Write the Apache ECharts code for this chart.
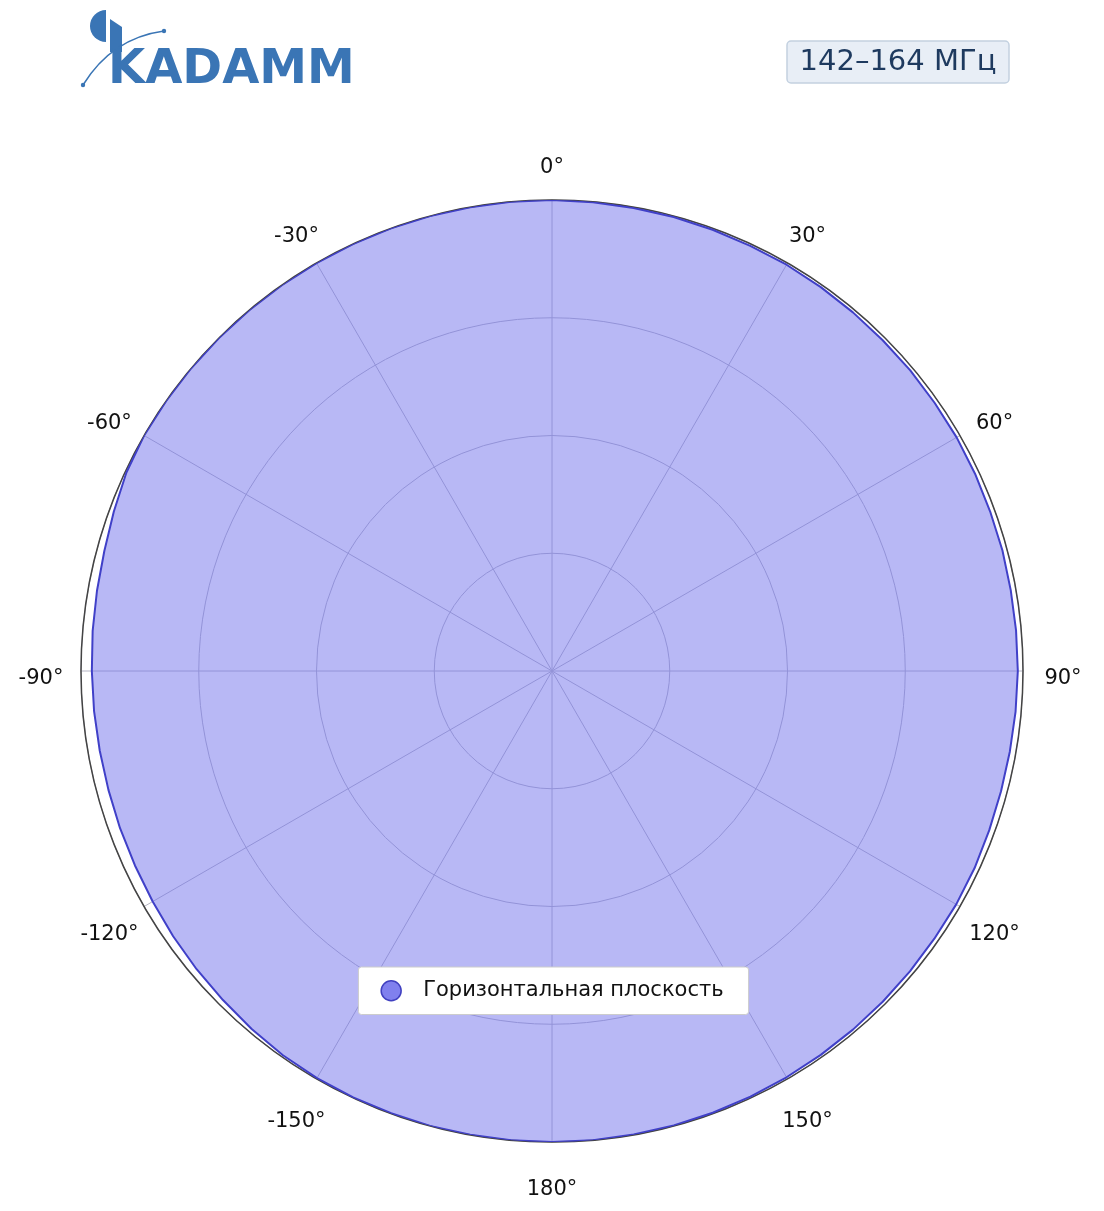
<!DOCTYPE html>
<html><head><meta charset="utf-8">
<script src="https://cdn.jsdelivr.net/npm/echarts@6/dist/echarts.min.js"></script>
<style>html,body{margin:0;padding:0;background:#fff}#c{width:1104px;height:1211px}</style>
</head><body><div id="c"></div>
<script>
// Angles (degrees, clockwise from top) and relative gain values
const angles = [0,5,10,15,20,25,30,35,40,45,50,55,60,65,70,75,80,85,90,95,100,105,110,115,120,125,130,135,140,145,150,155,160,165,170,175,
                180,185,190,195,200,205,210,215,220,225,230,235,240,245,250,255,260,265,270,275,280,285,290,295,300,305,310,315,320,325,330,335,340,345,350,355,360];
const gains = [1.0,0.999,0.998,0.998,0.997,0.996,0.996,0.995,0.994,0.993,0.993,0.992,0.992,0.991,0.99,0.99,0.989,0.989,0.989,0.988,0.987,0.987,0.988,0.99,0.991,0.991,0.992,0.993,0.994,0.995,0.996,0.997,0.998,0.999,0.999,1.0,
               1.0,1.0,1.0,1.0,0.999,0.999,0.998,0.996,0.992,0.988,0.985,0.982,0.979,0.977,0.976,0.975,0.975,0.976,0.977,0.979,0.981,0.984,0.99,0.997,1.0,1.0,1.0,1.0,1.0,1.0,1.0,1.0,1.0,1.0,1.0,1.0,1.0];
const angleTicks = [0,30,60,90,120,150,180,210,240,270,300,330];
const radiusTicks = [0, 0.25, 0.5, 0.75, 1];
const seriesName = 'Горизонтальная плоскость';
const bandLabel = '142–164 МГц';
const logoText = 'KADAMM';

const font = '"DejaVu Sans", sans-serif';
const CX = 552, CY = 671, RAD = 471;
const LABEL_FS = 21, LABEL_R = 511, LABEL_DY = 8, LABEL_MARGIN = -25;

function tickText(v) { return (v > 180 ? v - 360 : v) + '°'; }

// Per-label padding so each label is centred on a circle around the plot
const ctx = document.createElement('canvas').getContext('2d');
ctx.font = LABEL_FS + 'px ' + font;
const rich = {};
angleTicks.forEach(v => {
  const t = v * Math.PI / 180, s = Math.sin(t), c = Math.cos(t);
  const R = RAD + LABEL_MARGIN;
  const ax = R * s, ay = -R * c;
  const tx = LABEL_R * s, ty = -LABEL_R * c + LABEL_DY;
  const w = ctx.measureText(tickText(v)).width, h = LABEL_FS;
  let pl = 0, pr = 0, pt = 0, pb = 0;
  const hAlign = Math.abs(ax) / RAD < 0.3 ? 'center' : (ax > 0 ? 'left' : 'right');
  const vAlign = Math.abs(ay) / RAD < 0.3 ? 'middle' : (ay > 0 ? 'top' : 'bottom');
  if (hAlign === 'center') { const d = 2 * (tx - ax); if (d > 0) pl = d; else pr = -d; }
  else if (hAlign === 'left') pl = tx - ax - w / 2;
  else pr = ax - tx - w / 2;
  if (vAlign === 'middle') { const d = 2 * (ty - ay); if (d > 0) pt = d; else pb = -d; }
  else if (vAlign === 'top') pt = ty - ay - h / 2;
  else pb = ay - ty - h / 2;
  rich['a' + v] = { fontSize: LABEL_FS, fontFamily: font, color: '#111',
    padding: [Math.max(0, pt), Math.max(0, pr), Math.max(0, pb), Math.max(0, pl)] };
});

const chart = echarts.init(document.getElementById('c'));
const data = angles.map((a, i) => [gains[i], a]);

chart.setOption({
  animation: false,
  textStyle: { fontFamily: font },
  polar: { center: [CX, CY], radius: RAD },
  angleAxis: {
    type: 'value', min: 0, max: 360, interval: 30, startAngle: 90, clockwise: true,
    axisLine: { show: true, lineStyle: { color: '#444', width: 1.5 } },
    axisTick: { show: false },
    axisLabel: {
      margin: LABEL_MARGIN, fontSize: LABEL_FS, color: '#111', fontFamily: font, rich: rich,
      formatter: v => '{a' + v + '|' + tickText(v) + '}'
    },
    splitLine: { show: true, lineStyle: { color: '#b4b4c4', width: 1 } }
  },
  radiusAxis: {
    type: 'value', min: radiusTicks[0], max: radiusTicks[radiusTicks.length - 1], interval: 0.25,
    axisLine: { show: false }, axisTick: { show: false }, axisLabel: { show: false },
    splitLine: { show: true, lineStyle: { color: '#b4b4c4', width: 1 } }
  },
  legend: {
    left: 'center', top: 967,
    backgroundColor: '#fff', borderColor: '#cccccc', borderWidth: 1, borderRadius: 3,
    padding: [13, 25, 13, 22],
    itemWidth: 20, itemHeight: 20, icon: 'circle',
    textStyle: { fontSize: 21, color: '#111', fontFamily: font, padding: [0, 0, 0, 17] },
    data: [{ name: seriesName, itemStyle: { color: '#8080ee', borderColor: '#4040c0', borderWidth: 1.5 } }]
  },
  series: [{
    name: seriesName, type: 'line', coordinateSystem: 'polar',
    data: data, showSymbol: false, smooth: false,
    lineStyle: { color: '#4040c8', width: 2 },
    itemStyle: { color: '#8080ee' },
    areaStyle: { color: '#7171eb', opacity: 0.5 }
  }],
  graphic: [
    { type: 'rect', shape: { x: 787, y: 41, width: 222, height: 42, r: 4 },
      style: { fill: '#e8eef6', stroke: '#c3d1e0', lineWidth: 1.5 } },
    { type: 'text', x: 898, y: 62,
      style: { text: bandLabel, fontSize: 29, fill: '#1e3a5f', fontFamily: font, align: 'center', verticalAlign: 'middle' } },
    { type: 'sector', shape: { cx: 106, cy: 26, r: 16, r0: 0, startAngle: Math.PI / 2, endAngle: Math.PI * 1.5 },
      style: { fill: '#3a75b5' } },
    { type: 'polygon', shape: { points: [[110, 19], [122, 27], [122, 52], [110, 52]] }, style: { fill: '#3a75b5' } },
    { type: 'text', x: 108, y: 95,
      style: { text: logoText, fontSize: 48, fontWeight: 'bold', fill: '#3a75b5', fontFamily: font, align: 'left', verticalAlign: 'bottom' } },
    { type: 'bezierCurve', shape: { x1: 83, y1: 85, x2: 164, y2: 31, cpx1: 112, cpy1: 38 },
      style: { stroke: '#3a75b5', lineWidth: 1.5, fill: null } },
    { type: 'circle', shape: { cx: 83, cy: 85, r: 2.2 }, style: { fill: '#3a75b5' } },
    { type: 'circle', shape: { cx: 164, cy: 31, r: 2.2 }, style: { fill: '#3a75b5' } }
  ]
});
</script></body></html>
